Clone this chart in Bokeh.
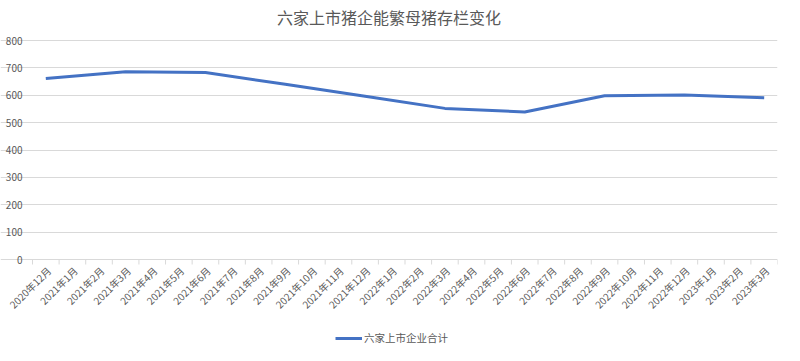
import math
from bokeh.plotting import figure
from bokeh.models import Range1d, Legend, LegendItem, ColumnDataSource, FixedTicker
from bokeh.core.properties import value
from bokeh.embed import file_html
from bokeh.resources import INLINE

title_text = "六家上市猪企能繁母猪存栏变化"
series_name = "六家上市企业合计"

months = [
    "2020年12月", "2021年1月", "2021年2月", "2021年3月", "2021年4月", "2021年5月",
    "2021年6月", "2021年7月", "2021年8月", "2021年9月", "2021年10月", "2021年11月",
    "2021年12月", "2022年1月", "2022年2月", "2022年3月", "2022年4月", "2022年5月",
    "2022年6月", "2022年7月", "2022年8月", "2022年9月", "2022年10月", "2022年11月",
    "2022年12月", "2023年1月", "2023年2月", "2023年3月",
]
data_months = [
    "2020年12月", "2021年3月", "2021年6月", "2021年9月", "2021年12月",
    "2022年3月", "2022年6月", "2022年9月", "2022年12月", "2023年3月",
]
values = [661, 686, 683, 640, 596, 552, 539, 598, 601, 591]
y_ticks = [0, 100, 200, 300, 400, 500, 600, 700, 800]

FONT = "Noto Sans CJK SC"
GRAY = "#595959"
LINE = "#4472C4"
GRID = "#d9d9d9"

n = len(months)

# layout (pixels)
TOP = 30                # figure top to frame top
HEAD = 10               # frame top to the 800 gridline
AXIS_W = 32             # room for the value labels left of the plot area
PLOT_W = 745            # pixel width of the category span
PLOT_H = 219            # pixel height of the 0..800 value span
FRAME_H = 315           # frame reaches to the bottom of the figure
RIGHT = 7
upp = (y_ticks[-1] - y_ticks[0]) / PLOT_H
ymax = y_ticks[-1] + HEAD * upp
ymin = y_ticks[0] - (FRAME_H - PLOT_H - HEAD) * upp
xlo, xhi = -0.5, n - 0.5
xmin = xlo - AXIS_W * (xhi - xlo) / PLOT_W

src = ColumnDataSource(dict(x=[months.index(m) for m in data_months], y=values))
lab_src = ColumnDataSource(dict(x=list(range(n)), y=[y_ticks[0]] * n, text=months))
tick_src = ColumnDataSource(dict(x=[i - 0.5 for i in range(n + 1)], y=[y_ticks[0]] * (n + 1)))
ylab_src = ColumnDataSource(dict(x=[xlo] * len(y_ticks), y=y_ticks, text=[str(v) for v in y_ticks]))

p = figure(
    frame_width=AXIS_W + PLOT_W, frame_height=FRAME_H,
    x_range=Range1d(xmin, xhi), y_range=Range1d(ymin, ymax),
    output_backend="svg", toolbar_location=None,
    min_border_left=0, min_border_right=RIGHT, min_border_top=TOP, min_border_bottom=0,
    title=title_text, x_axis_location=None, y_axis_location=None,
)
p.title.align = "center"
p.title.text_font = FONT
p.title.text_font_size = "16px"
p.title.text_font_style = "normal"
p.title.text_color = GRAY
p.title.standoff = 4

p.outline_line_color = None
p.background_fill_color = "white"
p.border_fill_color = "white"

p.xgrid.grid_line_color = None
p.ygrid.grid_line_color = GRID
p.ygrid.ticker = FixedTicker(ticks=y_ticks)
p.ygrid.bounds = (xlo, xhi)

# value labels (y axis)
p.text(x="x", y="y", text="text", source=ylab_src,
       text_align="right", text_baseline="middle", x_offset=-10,
       text_font=value(FONT), text_font_size="10px", text_color=GRAY)

# category boundary tick marks and category labels (x axis)
p.ray(x="x", y="y", source=tick_src, length=5, length_units="screen",
      angle=-math.pi / 2, line_color=GRID, line_width=1)
p.text(x="x", y="y", text="text", source=lab_src, angle=math.pi / 4,
       text_align="right", text_baseline="middle", x_offset=3, y_offset=9,
       text_font=value(FONT), text_font_size="10px", text_color=GRAY)

r = p.line("x", "y", source=src, line_color=LINE, line_width=3)

legend = Legend(items=[LegendItem(label=series_name, renderers=[r])],
                orientation="horizontal", location=(AXIS_W + 303, 0),
                label_text_font=FONT, label_text_font_size="10.5px",
                label_text_color=GRAY, glyph_width=27, glyph_height=12,
                label_standoff=2, label_height=12,
                border_line_color=None, background_fill_alpha=0,
                padding=0, margin=0)
p.add_layout(legend, "center")

open("out.html", "w").write(file_html(p, INLINE))
